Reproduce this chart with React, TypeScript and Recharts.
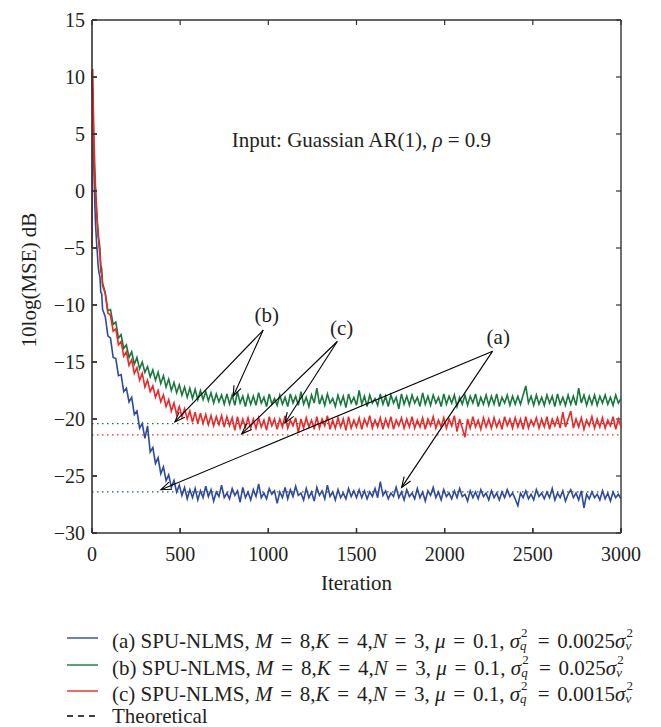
import React from "react";
import { LineChart, Line, XAxis, YAxis, ReferenceLine, ReferenceDot } from "recharts";

const ITER = [
  0, 4, 8, 12, 16, 20, 25, 30, 35, 40,
  45, 50, 55, 60, 75, 90, 105, 120, 135, 150,
  165, 180, 195, 210, 225, 240, 255, 270, 285, 300,
  315, 330, 345, 360, 375, 390, 405, 420, 435, 450,
  465, 480, 495, 510, 525, 540, 555, 570, 585, 600,
  615, 630, 645, 660, 675, 690, 705, 720, 735, 750,
  765, 780, 795, 810, 825, 840, 855, 870, 885, 900,
  915, 930, 945, 960, 975, 990, 1005, 1020, 1035, 1050,
  1065, 1080, 1095, 1110, 1125, 1140, 1155, 1170, 1185, 1200,
  1215, 1230, 1245, 1260, 1275, 1290, 1305, 1320, 1335, 1350,
  1365, 1380, 1395, 1410, 1425, 1440, 1455, 1470, 1485, 1500,
  1515, 1530, 1545, 1560, 1575, 1590, 1605, 1620, 1635, 1650,
  1665, 1680, 1695, 1710, 1725, 1740, 1755, 1770, 1785, 1800,
  1815, 1830, 1845, 1860, 1875, 1890, 1905, 1920, 1935, 1950,
  1965, 1980, 1995, 2010, 2025, 2040, 2055, 2070, 2085, 2100,
  2115, 2130, 2145, 2160, 2175, 2190, 2205, 2220, 2235, 2250,
  2265, 2280, 2295, 2310, 2325, 2340, 2355, 2370, 2385, 2400,
  2415, 2430, 2445, 2460, 2475, 2490, 2505, 2520, 2535, 2550,
  2565, 2580, 2595, 2610, 2625, 2640, 2655, 2670, 2685, 2700,
  2715, 2730, 2745, 2760, 2775, 2790, 2805, 2820, 2835, 2850,
  2865, 2880, 2895, 2910, 2925, 2940, 2955, 2970, 2985, 3000,
];

// (a) sigma_q^2 = 0.0025 sigma_v^2  (blue)
const MSE_A = [
  10.4, 7.2, 4.1, 1.3, -1.2, -2.9, -4.3, -5.4, -6.6, -7.2,
  -7.5, -8.9, -9.0, -10.4, -11.0, -12.7, -12.9, -14.6, -14.7, -16.2,
  -16.1, -17.6, -17.3, -18.5, -18.1, -19.6, -19.3, -20.8, -20.4, -21.7,
  -20.6, -22.9, -22.5, -23.9, -23.4, -24.8, -24.2, -25.4, -24.9, -26.0,
  -25.4, -26.4, -25.8, -26.7, -26.0, -27.0, -26.2, -26.9, -26.1, -27.1,
  -26.3, -26.9, -25.9, -26.8, -26.2, -27.2, -26.4, -26.8, -25.8, -26.9,
  -26.5, -27.0, -26.1, -26.7, -26.3, -27.3, -26.0, -26.9, -26.4, -27.1,
  -26.2, -26.8, -25.7, -26.9, -26.5, -27.0, -26.1, -26.6, -26.3, -27.4,
  -26.4, -26.9, -26.0, -27.0, -26.2, -26.8, -25.9, -26.7, -26.5, -27.1,
  -26.1, -26.9, -26.4, -27.2, -26.0, -26.7, -26.3, -27.0, -25.8, -26.8,
  -26.4, -27.1, -26.2, -26.9, -26.5, -27.0, -26.1, -26.8, -26.3, -26.9,
  -26.2, -26.9, -26.3, -27.0, -26.4, -26.8, -26.1, -26.9, -25.5, -26.7,
  -26.3, -27.0, -26.5, -26.8, -26.0, -26.9, -26.4, -27.1, -26.2, -26.8,
  -26.5, -27.0, -26.1, -26.9, -26.4, -27.2, -26.3, -26.7, -26.0, -26.9,
  -26.4, -27.1, -26.2, -26.8, -26.5, -27.0, -26.3, -26.9, -26.1, -26.8,
  -26.6, -27.2, -26.3, -26.9, -26.4, -27.0, -26.2, -26.8, -26.5, -27.1,
  -26.3, -26.9, -26.5, -27.1, -26.4, -26.9, -26.2, -26.8, -26.5, -27.0,
  -27.6, -26.5, -26.9, -26.3, -27.0, -26.6, -27.1, -26.2, -26.8, -26.5,
  -27.0, -26.4, -26.9, -26.1, -27.1, -26.5, -26.9, -26.3, -27.2, -26.6,
  -26.2, -26.9, -26.5, -27.1, -26.3, -27.8, -26.6, -27.0, -26.4, -26.9,
  -26.6, -27.1, -26.3, -27.0, -26.5, -27.2, -26.4, -26.9, -26.6, -27.0,
];

// (b) sigma_q^2 = 0.025 sigma_v^2  (green)
const MSE_B = [
  10.6, 8.3, 5.2, 2.6, 1.0, -0.2, -1.6, -2.9, -4.0, -4.4,
  -5.0, -6.5, -6.8, -8.1, -8.9, -10.5, -10.4, -11.7, -11.5, -12.9,
  -12.6, -13.8, -13.5, -14.6, -14.1, -15.2, -14.6, -15.6, -15.0, -15.9,
  -15.4, -16.3, -15.7, -16.6, -15.9, -16.9, -16.2, -17.2, -16.5, -17.5,
  -16.8, -17.7, -17.0, -17.9, -17.2, -18.1, -17.3, -18.2, -17.4, -18.3,
  -17.5, -18.3, -17.6, -18.4, -17.7, -18.6, -17.8, -18.5, -17.9, -18.7,
  -17.8, -18.7, -17.9, -18.8, -17.6, -18.6, -18.0, -18.9, -17.9, -18.7,
  -18.0, -18.8, -17.7, -18.6, -18.1, -18.9, -17.8, -18.7, -18.2, -18.8,
  -17.9, -18.7, -18.1, -18.9, -17.8, -18.6, -18.0, -18.8, -17.6, -18.7,
  -18.1, -18.9, -17.9, -18.6, -17.3, -18.7, -18.0, -18.8, -17.8, -18.6,
  -18.2, -18.9, -17.9, -18.7, -18.0, -19.0, -17.8, -18.6, -18.1, -18.8,
  -17.5, -18.7, -18.0, -18.9, -17.9, -18.6, -18.2, -18.8, -17.8, -18.7,
  -18.0, -18.9, -17.9, -18.6, -18.1, -19.1, -17.8, -18.7, -18.0, -18.8,
  -17.9, -18.6, -18.1, -18.9, -17.7, -18.7, -18.0, -18.8, -17.9, -18.6,
  -18.1, -18.9, -17.8, -18.7, -18.0, -18.6, -17.9, -18.9, -18.1, -18.7,
  -17.9, -18.8, -18.0, -18.6, -17.8, -18.9, -18.1, -18.7, -17.9, -18.8,
  -18.0, -18.7, -17.8, -18.9, -18.1, -18.6, -17.9, -18.8, -18.0, -18.7,
  -18.0, -18.7, -17.9, -17.1, -18.6, -18.0, -18.8, -17.9, -18.7, -18.1,
  -18.8, -17.9, -18.6, -18.0, -18.9, -17.8, -18.7, -18.1, -18.8, -17.9,
  -18.7, -18.0, -18.8, -17.3, -18.6, -17.9, -18.8, -18.0, -18.7, -17.9,
  -18.8, -18.0, -18.6, -17.9, -18.7, -18.1, -18.8, -17.9, -18.6, -18.2,
];

// (c) sigma_q^2 = 0.0015 sigma_v^2  (red)
const MSE_C = [
  -5.0, 10.7, 7.1, 4.2, 2.1, 0.4, -1.1, -2.6, -3.6, -4.9,
  -5.6, -7.1, -7.3, -8.3, -9.0, -10.7, -10.9, -12.3, -12.1, -13.5,
  -13.2, -14.5, -14.1, -15.3, -14.8, -16.0, -15.5, -16.6, -16.0, -17.2,
  -16.6, -17.6, -17.1, -18.1, -17.5, -18.5, -17.9, -18.9, -18.3, -19.3,
  -18.6, -19.6, -18.9, -19.8, -19.1, -20.0, -19.3, -20.3, -19.4, -20.4,
  -19.5, -20.4, -19.6, -20.5, -19.7, -20.6, -19.8, -20.5, -19.7, -20.7,
  -19.8, -20.6, -19.9, -21.0, -19.8, -20.8, -20.0, -20.7, -19.9, -20.8,
  -20.0, -20.8, -19.9, -20.7, -20.1, -21.0, -19.8, -20.6, -20.0, -20.9,
  -20.0, -20.7, -19.7, -20.8, -20.1, -20.6, -19.9, -21.2, -20.0, -20.8,
  -19.9, -20.7, -20.1, -20.9, -19.8, -20.8, -20.0, -20.6, -19.7, -20.9,
  -20.1, -20.8, -19.9, -20.7, -20.0, -21.0, -19.8, -20.8, -20.1, -20.7,
  -19.9, -20.9, -20.0, -20.6, -19.7, -20.8, -20.1, -20.7, -19.9, -20.9,
  -20.0, -20.7, -19.8, -20.9, -20.1, -20.6, -19.9, -20.8, -20.0, -20.7,
  -19.8, -20.8, -20.1, -20.7, -19.9, -20.9, -20.0, -20.6, -19.8, -20.8,
  -20.1, -20.7, -19.9, -20.8, -20.0, -20.6, -19.7, -21.1, -20.0, -20.8,
  -21.6, -20.0, -20.8, -19.8, -20.7, -20.1, -20.9, -19.9, -20.7, -20.0,
  -20.8, -19.9, -20.7, -20.1, -20.9, -19.8, -20.6, -20.0, -20.8, -19.9,
  -20.7, -20.0, -20.9, -19.8, -20.8, -20.1, -20.6, -19.9, -20.8, -20.0,
  -20.7, -19.8, -20.9, -20.0, -20.6, -19.9, -20.8, -19.4, -20.7, -20.0,
  -19.3, -20.8, -20.0, -20.7, -19.9, -20.9, -20.1, -20.6, -19.8, -20.8,
  -20.0, -20.7, -19.9, -20.8, -20.1, -20.6, -19.8, -20.9, -20.0, -20.7,
];

// Theoretical steady-state levels (dB): (a), (b), (c)
const THEORY_A = -26.4;
const THEORY_B = -20.4;
const THEORY_C = -21.4;

const X_TICKS = [0, 500, 1000, 1500, 2000, 2500, 3000];
const Y_TICKS = [-30, -25, -20, -15, -10, -5, 0, 5, 10, 15];
const X_MAX = 3000;
const Y_MAX = 15;

// annotation arrows: [fromX, fromY, toX, toY]
const ARROWS_A = [[2272, -14.05, 391, -26.2], [2272, -14.05, 1756, -26.0]];
const ARROWS_B = [[971, -12.2, 470, -20.26], [971, -12.2, 801, -18.0]];
const ARROWS_C = [[1391, -13.2, 849, -21.3], [1391, -13.2, 1094, -20.35]];
// annotation labels: [text, x, y]
const ANNOTATIONS: [string, number, number][] = [
  ["(b)", 991, -10.9],
  ["(c)", 1416, -12.06],
  ["(a)", 2304, -12.8],
];

const COLOR_A = "#2c4b9e";
const COLOR_B = "#16793b";
const COLOR_C = "#ee2626";

const FONT = "'Liberation Serif', 'Times New Roman', serif";
const INK = "#231f20";
const AXIS = "#333";
const TXT = 21;
const TICK = 20;

const data = ITER.map((it, i) => ({ it, a: MSE_A[i], b: MSE_B[i], c: MSE_C[i] }));

const fmt = (v: number) => (v < 0 ? "\u2212" + Math.abs(v) : String(v));

const ArrowShape = (props: any) => {
  const { x1, y1, x2, y2 } = props;
  if ([x1, y1, x2, y2].some((v) => typeof v !== "number" || isNaN(v))) return <g />;
  const ang = Math.atan2(y2 - y1, x2 - x1);
  const L = 11;
  const W = 0.36;
  const p1 = `${x2 - L * Math.cos(ang - W)},${y2 - L * Math.sin(ang - W)}`;
  const p2 = `${x2 - L * Math.cos(ang + W)},${y2 - L * Math.sin(ang + W)}`;
  return (
    <g>
      <line x1={x1} y1={y1} x2={x2} y2={y2} stroke="#000" strokeWidth={1.1} />
      <polyline points={`${p1} ${x2},${y2} ${p2}`} fill="none" stroke="#000" strokeWidth={1.1} />
    </g>
  );
};

// inward tick marks at both ends of a full-span reference line
const TickPair = (props: any) => {
  const { x1, y1, x2, y2 } = props;
  if ([x1, y1, x2, y2].some((v) => typeof v !== "number" || isNaN(v))) return <g />;
  const len = 5;
  if (Math.abs(x1 - x2) < 0.5) {
    const top = Math.min(y1, y2);
    const bot = Math.max(y1, y2);
    return (
      <g stroke={AXIS} strokeWidth={1.2}>
        <line x1={x1} x2={x1} y1={top} y2={top + len} />
        <line x1={x1} x2={x1} y1={bot} y2={bot - len} />
      </g>
    );
  }
  const l = Math.min(x1, x2);
  const r = Math.max(x1, x2);
  return (
    <g stroke={AXIS} strokeWidth={1.2}>
      <line x1={l} x2={l + len} y1={y1} y2={y1} />
      <line x1={r} x2={r - len} y1={y1} y2={y1} />
    </g>
  );
};

const Eq = () => <span style={{ margin: "0 2.5px" }}> = </span>;

const Sig = ({ sub }: { sub: string }) => (
  <span style={{ whiteSpace: "nowrap" }}>
    <i>σ</i>
    <span style={{ display: "inline-block", position: "relative", width: 10, height: 21 }}>
      <span style={{ position: "absolute", left: 1, top: 0, fontSize: 13, lineHeight: "12px" }}>2</span>
      <i style={{ position: "absolute", left: 0, top: 13, fontSize: 13, lineHeight: "12px" }}>{sub}</i>
    </span>
  </span>
);

const LegendText = ({ tag, ratio }: { tag: string; ratio: string }) => (
  <span>
    ({tag}) SPU-NLMS, <i>M</i>
    <Eq />8,<i>K</i>
    <Eq />4,<i>N</i>
    <Eq />3, <i>μ</i>
    <Eq />0.1, <Sig sub="q" />
    <Eq />
    {ratio}
    <Sig sub="v" />
  </span>
);

const LEGEND_ROWS = [
  { color: COLOR_A, tag: "a", ratio: "0.0025" },
  { color: COLOR_B, tag: "b", ratio: "0.025" },
  { color: COLOR_C, tag: "c", ratio: "0.0015" },
];

const pointLabel = (content: React.ReactNode) => (p: any) => {
  const vb = p.viewBox || {};
  const cx = vb.cx ?? vb.x + (vb.width || 0) / 2;
  const cy = vb.cy ?? vb.y + (vb.height || 0) / 2;
  return (
    <text x={cx} y={cy} textAnchor="middle" dominantBaseline="central" fontSize={TXT} fontFamily={FONT} fill={INK}>
      {content}
    </text>
  );
};

export default function App() {
  return (
    <div
      style={{
        position: "absolute",
        left: 0,
        top: 0,
        width: 661,
        height: 727,
        background: "#fff",
        fontFamily: FONT,
        color: INK,
      }}
    >
      <LineChart
        width={661}
        height={600}
        data={data}
        margin={{ top: 20, right: 40, bottom: 27, left: 0 }}
        style={{ fontFamily: FONT }}
      >
        <XAxis
          dataKey="it"
          type="number"
          domain={[0, X_MAX]}
          ticks={X_TICKS}
          height={40}
          tickSize={-5}
          tickMargin={19}
          stroke={AXIS}
          strokeWidth={1.4}
          tick={{ fill: INK, fontSize: TICK, fontFamily: FONT }}
          label={{
            content: (p: any) => {
              const vb = p.viewBox;
              return (
                <text
                  x={vb.x + vb.width / 2}
                  y={vb.y + vb.height + 10}
                  textAnchor="middle"
                  dominantBaseline="central"
                  fontSize={TXT}
                  fontFamily={FONT}
                  fill={INK}
                >
                  Iteration
                </text>
              );
            },
          }}
        />
        <YAxis
          type="number"
          domain={[-30, Y_MAX]}
          ticks={Y_TICKS}
          allowDataOverflow
          width={92}
          tickSize={-5}
          tickMargin={12}
          stroke={AXIS}
          strokeWidth={1.6}
          tickFormatter={fmt}
          tick={{ fill: INK, fontSize: TICK, fontFamily: FONT }}
          label={{
            content: (p: any) => {
              const vb = p.viewBox;
              const cx = vb.x + 29;
              const cy = 280;
              return (
                <text
                  x={cx}
                  y={cy}
                  transform={`rotate(-90 ${cx} ${cy})`}
                  textAnchor="middle"
                  dominantBaseline="central"
                  fontSize={TXT}
                  fontFamily={FONT}
                  fill={INK}
                >
                  10log(MSE) dB
                </text>
              );
            },
          }}
        />

        {/* box: top and right frame */}
        <ReferenceLine y={Y_MAX} stroke={AXIS} strokeWidth={1.4} ifOverflow="visible" />
        <ReferenceLine x={X_MAX} stroke={AXIS} strokeWidth={1.4} ifOverflow="visible" />
        {X_TICKS.map((t) => (
          <ReferenceLine key={"xt" + t} x={t} shape={TickPair} ifOverflow="visible" />
        ))}
        {Y_TICKS.map((t) => (
          <ReferenceLine key={"yt" + t} y={t} shape={TickPair} ifOverflow="visible" />
        ))}

        <ReferenceLine y={THEORY_B} stroke={COLOR_B} strokeWidth={1.3} strokeDasharray="1.5 3.5" />
        <ReferenceLine y={THEORY_C} stroke={COLOR_C} strokeWidth={1.3} strokeDasharray="1.5 3.5" />
        <ReferenceLine y={THEORY_A} stroke={COLOR_A} strokeWidth={1.3} strokeDasharray="1.5 3.5" />

        <Line dataKey="a" stroke={COLOR_A} strokeWidth={1.6} dot={false} activeDot={false} isAnimationActive={false} />
        <Line dataKey="b" stroke={COLOR_B} strokeWidth={1.6} dot={false} activeDot={false} isAnimationActive={false} />
        <Line dataKey="c" stroke={COLOR_C} strokeWidth={1.6} dot={false} activeDot={false} isAnimationActive={false} />

        {[...ARROWS_B, ...ARROWS_C, ...ARROWS_A].map((a, i) => (
          <ReferenceLine
            key={"arr" + i}
            segment={[
              { x: a[0], y: a[1] },
              { x: a[2], y: a[3] },
            ]}
            shape={ArrowShape}
            ifOverflow="visible"
          />
        ))}

        {ANNOTATIONS.map(([t, x, y]) => (
          <ReferenceDot
            key={t}
            x={x}
            y={y}
            r={0}
            stroke="none"
            fill="none"
            ifOverflow="visible"
            label={{ content: pointLabel(t) }}
          />
        ))}

        <ReferenceDot
          x={1528}
          y={4.47}
          r={0}
          stroke="none"
          fill="none"
          label={{
            content: pointLabel(
              <>
                Input: Guassian AR(1), <tspan fontStyle="italic">ρ</tspan> = 0.9
              </>
            ),
          }}
        />
      </LineChart>

      {LEGEND_ROWS.map((r, i) => (
        <div
          key={r.tag}
          style={{ position: "absolute", left: 0, top: 627 + i * 26.5, height: 22, width: 661, fontSize: TXT, lineHeight: "22px" }}
        >
          <svg width={40} height={22} style={{ position: "absolute", left: 64, top: 0 }}>
            <line x1={3} y1={11} x2={34} y2={11} stroke={r.color} strokeWidth={1.4} />
          </svg>
          <div style={{ position: "absolute", left: 112, top: 0, whiteSpace: "nowrap" }}>
            <LegendText tag={r.tag} ratio={r.ratio} />
          </div>
        </div>
      ))}
      <div style={{ position: "absolute", left: 0, top: 705, height: 22, width: 661, fontSize: TXT, lineHeight: "22px" }}>
        <svg width={40} height={22} style={{ position: "absolute", left: 64, top: 0 }}>
          <line x1={3} y1={11} x2={34} y2={11} stroke="#000" strokeWidth={1.3} strokeDasharray="6 5" />
        </svg>
        <div style={{ position: "absolute", left: 112, top: 0, whiteSpace: "nowrap" }}>Theoretical</div>
      </div>
    </div>
  );
}
